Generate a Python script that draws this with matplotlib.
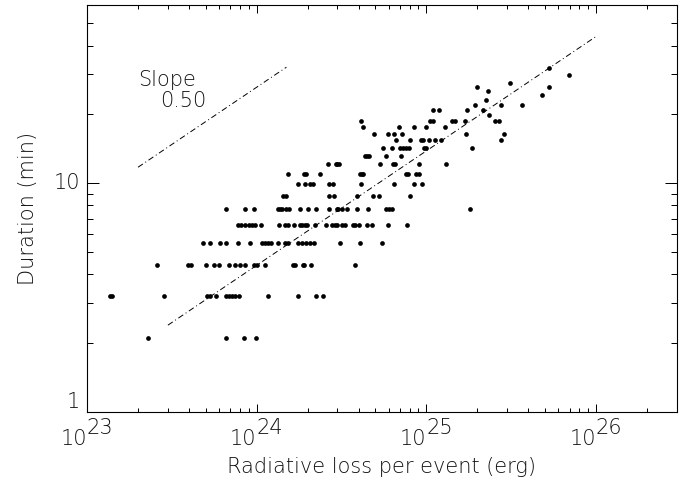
#!/usr/bin/env python3
"""
Flare duration versus radiative loss per event (log-log scatter, IDL look).
"""

import numpy as np
import matplotlib
matplotlib.use('Agg')
import matplotlib.pyplot as plt
from matplotlib.ticker import LogLocator, NullFormatter

# Radiative loss per event, in units of 1e24 erg, grouped by measured duration (min)
row_2_1 = [0.23, 0.66, 0.84, 0.99]
row_3_2 = [0.136, 0.140, 0.285, 0.51, 0.53, 0.58, 0.66, 0.69, 0.72, 0.75, 0.79,
           1.16, 1.76, 2.25, 2.48]
row_4_4 = [0.26, 0.395, 0.41, 0.50, 0.56, 0.60, 0.69, 0.75, 0.80, 0.86, 0.97,
           1.01, 1.12, 1.63, 1.69, 1.87, 1.90, 2.08, 3.78]
row_5_5 = [0.48, 0.53, 0.61, 0.66, 0.78, 0.91, 1.07, 1.12, 1.17, 1.21, 1.33,
           1.47, 1.54, 1.75, 1.85, 1.95, 2.06, 2.18, 3.10, 4.06, 5.50]
row_6_6 = [0.78, 0.81, 0.85, 0.90, 0.94, 0.98, 1.06, 1.35, 1.47, 1.54, 1.67,
           1.80, 1.86, 1.93, 1.99, 2.21, 2.58, 2.78, 2.89, 2.99, 3.21, 3.33,
           3.69, 3.82, 4.01, 4.50, 4.78, 5.98, 7.66]
row_7_7 = [0.66, 0.86, 0.97, 1.33, 1.38, 1.42, 1.50, 1.56, 1.80, 2.01, 2.24,
           2.68, 2.96, 3.04, 3.21, 3.42, 3.93, 4.51, 5.78, 6.00, 6.30, 18.2]
row_8_8 = [1.44, 1.49, 2.68, 2.86, 3.92, 4.87, 5.29, 8.01]
row_9_9 = [1.76, 1.93, 2.06, 2.14, 2.66, 2.83, 4.10, 6.49, 8.45, 9.48]
row_11_0 = [1.54, 1.90, 1.95, 2.38, 4.08, 4.16, 4.23, 7.63, 7.84, 8.68, 9.05]
row_12_1 = [2.63, 2.92, 2.99, 3.07, 5.33, 6.36, 6.53, 9.05, 13.1]
row_13_2 = [4.35, 4.47, 4.59, 5.82, 7.09]
row_14_3 = [5.59, 6.31, 6.99, 7.28, 7.58, 7.93, 9.68, 9.95, 18.6]
row_15_4 = [6.68, 8.01, 9.36, 9.55, 10.4, 11.3, 12.2, 27.7]
row_16_5 = [4.91, 5.96, 6.50, 7.18, 17.1, 28.9]
row_17_6 = [4.27, 6.87, 8.45, 9.95, 12.9]
row_18_7 = [4.15, 10.6, 11.0, 14.2, 14.7, 17.0, 25.5, 26.9]
row_19_8 = [23.6]
row_20_9 = [11.0, 11.9, 17.4, 21.6]
row_22_0 = [19.4, 27.8, 36.7]
row_23_1 = [22.5]
row_24_2 = [48.5]
row_25_3 = [23.2]
row_26_4 = [19.9, 52.8]
row_27_5 = [31.1]
row_29_7 = [69.3]
row_31_9 = [52.8]

durations = [2.1, 3.2, 4.4, 5.5, 6.6, 7.7, 8.8, 9.9, 11.0, 12.1, 13.2, 14.3,
             15.4, 16.5, 17.6, 18.7, 19.8, 20.9, 22.0, 23.1, 24.2, 25.3,
             26.4, 27.5, 29.7, 31.9]
loss_rows = [row_2_1, row_3_2, row_4_4, row_5_5, row_6_6, row_7_7, row_8_8,
             row_9_9, row_11_0, row_12_1, row_13_2, row_14_3, row_15_4,
             row_16_5, row_17_6, row_18_7, row_19_8, row_20_9, row_22_0,
             row_23_1, row_24_2, row_25_3, row_26_4, row_27_5, row_29_7,
             row_31_9]

# Power-law fit (slope 0.5) and the slope guide
fit_range = [3e23, 1e26]
fit_norm = 10 ** -11.359          # duration = fit_norm * loss**0.5
guide_range = [2e23, 1.5e24]
guide_start = 11.75               # duration at the guide's left end
slope = 0.50

xlim = (1e23, 3e26)
ylim = (1, 60)
x_decades = [23, 24, 25, 26]
y_labels = [1, 10]

TEXT = '#111111'
FONT = 15
plt.rcParams['font.family'] = ['DejaVu Sans']
plt.rcParams['font.weight'] = 'light'
plt.rcParams['axes.labelweight'] = 'light'


def main():
    x = np.concatenate([np.array(r) * 1e24 for r in loss_rows])
    y = np.concatenate([np.full(len(r), d) for r, d in zip(loss_rows, durations)])

    fig = plt.figure(figsize=(6.79, 4.80), dpi=100)
    ax = fig.add_axes([0.1281, 0.1417, 0.8685, 0.8473])

    ax.plot(x, y, 'o', color='black', ms=3.4, mew=0)

    fx = np.array(fit_range)
    ax.plot(fx, fit_norm * fx ** slope, color='black', lw=0.7,
            dashes=(6, 3, 1, 3))
    gx = np.array(guide_range)
    ax.plot(gx, guide_start * (gx / gx[0]) ** slope, color='black', lw=0.7,
            dashes=(6, 3, 1, 3))

    ax.text(2e23, 28.3, 'Slope', fontsize=FONT, color=TEXT, ha='left', va='center')
    ax.text(2.7e23, 22.9, f'{slope:.2f}', fontsize=FONT, color=TEXT,
            ha='left', va='center')

    ax.set_xscale('log')
    ax.set_yscale('log')
    ax.set_xlim(*xlim)
    ax.set_ylim(*ylim)

    ax.xaxis.set_major_locator(LogLocator(base=10, numticks=10))
    ax.xaxis.set_minor_locator(LogLocator(base=10, subs=np.arange(2, 10), numticks=20))
    ax.yaxis.set_major_locator(LogLocator(base=10, numticks=10))
    ax.yaxis.set_minor_locator(LogLocator(base=10, subs=np.arange(2, 10), numticks=20))
    ax.xaxis.set_major_formatter(NullFormatter())
    ax.xaxis.set_minor_formatter(NullFormatter())
    ax.yaxis.set_major_formatter(NullFormatter())
    ax.yaxis.set_minor_formatter(NullFormatter())

    ax.tick_params(which='both', direction='in', top=True, right=True,
                   width=0.72, color='black')
    ax.tick_params(axis='x', which='major', length=5.8)
    ax.tick_params(axis='x', which='minor', length=2.9)
    ax.tick_params(axis='y', which='major', length=8.6)
    ax.tick_params(axis='y', which='minor', length=4.3)
    for s in ax.spines.values():
        s.set_linewidth(0.8)

    # IDL-style tick labels: full-size exponent
    for k in x_decades:
        ax.annotate('10', xy=(10.0 ** k, 0), xycoords=('data', 'axes fraction'),
                    xytext=(0, -12), textcoords='offset points',
                    ha='right', va='top', fontsize=FONT, color=TEXT)
        ax.annotate(str(k), xy=(10.0 ** k, 0), xycoords=('data', 'axes fraction'),
                    xytext=(0, -4), textcoords='offset points',
                    ha='left', va='top', fontsize=FONT, color=TEXT)
    for v in y_labels:
        ax.annotate(str(v), xy=(0, v), xycoords=('axes fraction', 'data'),
                    xytext=(-5, 0), textcoords='offset points', ha='right',
                    va='bottom' if v == ylim[0] else 'center',
                    fontsize=FONT, color=TEXT)

    ax.set_xlabel('Radiative loss per event (erg)', fontsize=FONT, color=TEXT,
                  labelpad=29)
    ax.set_ylabel('Duration (min)', fontsize=FONT, color=TEXT, labelpad=32)

    fig.savefig('out.png', dpi=100)


if __name__ == "__main__":
    main()
